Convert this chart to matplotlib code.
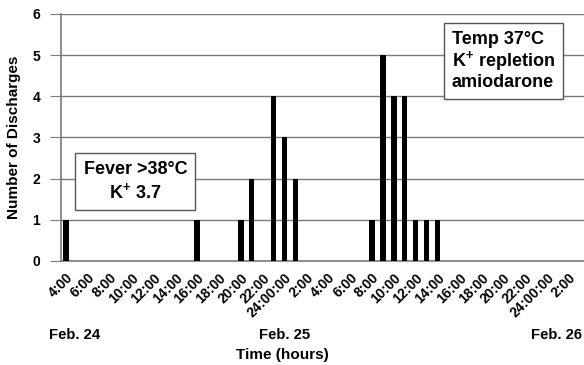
import numpy as np
import matplotlib
matplotlib.use('Agg')
import matplotlib.pyplot as plt

plt.rcParams['font.family'] = ['Liberation Sans', 'DejaVu Sans']
plt.rcParams['font.weight'] = 'bold'
plt.rcParams['mathtext.fontset'] = 'custom'
plt.rcParams['mathtext.rm'] = 'Liberation Sans:bold'
plt.rcParams['mathtext.default'] = 'rm'

# hours counted from 0:00 on Feb. 24
hours = [4, 16, 20, 21, 23, 24, 25, 32, 33, 34, 35, 36, 37, 38]
discharges = [1, 1, 1, 2, 4, 3, 2, 1, 5, 4, 4, 1, 1, 1]

tick_hours = list(range(4, 51, 2))
tick_labels = ['4:00', '6:00', '8:00', '10:00', '12:00', '14:00', '16:00',
               '18:00', '20:00', '22:00', '24:00:00',
               '2:00', '4:00', '6:00', '8:00', '10:00', '12:00', '14:00',
               '16:00', '18:00', '20:00', '22:00', '24:00:00', '2:00']
days = ['Feb. 24', 'Feb. 25', 'Feb. 26']

fig = plt.figure(figsize=(5.84, 3.65), dpi=100)
ax = fig.add_axes([0.1045, 0.285, 0.8955, 0.677])

ax.bar(hours, discharges, width=0.5, color='black', zorder=3)

ax.set_xlim(3.55, 51.4)
ax.set_ylim(0, 6)
ax.set_yticks(range(7))
ax.yaxis.grid(True, color='#7a7a7a', lw=1, zorder=0)
ax.tick_params(axis='y', length=8, color='#7a7a7a', labelsize=10, pad=7)
ax.tick_params(axis='x', length=0, labelsize=10, pad=7)
ax.set_xticks(tick_hours)
ax.set_xticklabels(tick_labels, rotation=45, ha='right', rotation_mode='anchor')
for lb in ax.get_yticklabels() + ax.get_xticklabels():
    lb.set_fontweight('bold')

for s in ['top', 'right']:
    ax.spines[s].set_visible(False)
ax.spines['left'].set_color('#7a7a7a')
ax.spines['bottom'].set_color('#7a7a7a')
ax.spines['left'].set_linewidth(1.2)
ax.spines['bottom'].set_linewidth(1.2)

ax.set_ylabel('Number of Discharges', fontsize=11, fontweight='bold')
ax.yaxis.set_label_coords(-0.077, 0.5)

fig.text(75 / 584, 1 - 335 / 365, days[0], ha='center', va='center', fontsize=10.7, fontweight='bold')
fig.text(285 / 584, 1 - 335 / 365, days[1], ha='center', va='center', fontsize=10.7, fontweight='bold')
fig.text(531 / 584, 1 - 335 / 365, days[2], ha='left', va='center', fontsize=10.7, fontweight='bold')
fig.text(282 / 584, 1 - 355 / 365, 'Time (hours)', ha='center', va='center', fontsize=11, fontweight='bold')

box = dict(boxstyle='square,pad=0.45', fc='white', ec='#555555', lw=1)
ax.text(10.35, 1.93, 'Fever >38°C\nK$^{+}$ 3.7', ha='center', va='center', fontsize=13,
        fontweight='bold', linespacing=1.2, bbox=box, zorder=4)
ax.text(44.0, 4.85, 'Temp 37°C\nK$^{+}$ repletion\namiodarone', ha='center', va='center',
        fontsize=13, fontweight='bold', linespacing=1.05, bbox=box, zorder=4,
        multialignment='left')

fig.savefig('out.png', dpi=100)
